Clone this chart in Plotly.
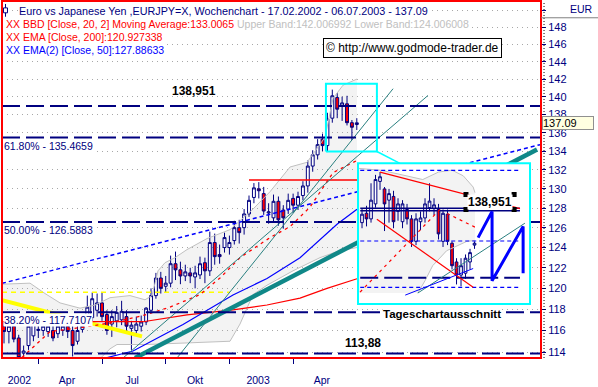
import numpy as np
import pandas as pd
import plotly.graph_objects as go

FIRST_BAR = "2002-02-17"   # first weekly bar, one bar per week

# ---------------- weekly OHLC (EUR/JPY) ----------------
OPEN = [116.4, 115.9, 116.4, 115.3, 113.9, 114.6, 115.5, 116.0, 116.0, 115.9,
        116.0, 115.7, 116.0, 116.4, 116.0, 115.0, 116.1, 117.0, 117.2, 117.9,
        118.6, 117.5, 116.6, 116.9, 117.0, 117.3, 116.2, 116.0, 116.4, 116.8,
        117.9, 119.3, 121.0, 120.2, 120.5, 122.4, 121.8, 121.2, 121.5, 121.1,
        121.3, 122.5, 121.7, 124.5, 123.3, 124.0, 124.0, 124.7, 126.0, 126.0,
        127.4, 129.1, 130.0, 129.5, 127.5, 127.0, 128.7, 127.8, 127.9, 129.0,
        128.3, 129.3, 130.3, 132.4, 133.6, 135.3, 134.6, 137.6, 139.9, 138.9,
        139.2, 137.1, 136.9]
HIGH = [116.8, 116.8, 116.9, 115.6, 114.6, 116.9, 117.2, 116.9, 117.0, 117.1,
        116.6, 117.0, 116.9, 116.8, 116.4, 116.4, 117.4, 119.3, 119.6, 119.5,
        119.6, 117.9, 117.9, 118.3, 118.8, 117.9, 116.9, 117.3, 117.4, 118.2,
        120.0, 121.5, 121.6, 121.2, 123.2, 123.6, 122.6, 122.3, 122.0, 122.2,
        123.1, 123.0, 125.6, 125.4, 124.3, 125.5, 125.2, 126.7, 126.8, 127.9,
        129.3, 130.6, 130.7, 130.2, 128.5, 129.4, 129.2, 128.3, 129.5, 129.5,
        129.7, 130.8, 133.0, 134.1, 135.3, 135.9, 138.2, 140.8, 140.4, 140.0,
        140.1, 137.4, 137.6]
LOW = [114.8, 114.8, 114.9, 113.5, 113.6, 114.2, 115.0, 115.3, 115.5, 115.4,
       115.0, 115.3, 115.5, 115.3, 113.6, 114.7, 115.8, 116.6, 116.7, 117.3,
       116.9, 115.6, 115.4, 116.3, 116.5, 115.9, 114.2, 115.6, 115.9, 116.5,
       117.6, 119.0, 119.5, 119.6, 120.1, 120.8, 120.4, 120.7, 120.5, 120.0,
       120.9, 120.5, 121.2, 122.3, 122.4, 123.5, 123.3, 124.3, 124.4, 125.3,
       127.1, 128.5, 129.0, 127.3, 126.4, 126.5, 126.2, 125.9, 127.4, 127.5,
       127.8, 128.8, 129.6, 131.8, 133.1, 134.0, 133.9, 137.1, 137.6, 137.3,
       136.8, 135.2, 136.3]
CLOSE = [115.9, 116.4, 115.2, 113.5, 114.1, 116.4, 116.8, 116.1, 116.4, 116.4,
         115.3, 116.4, 116.4, 115.9, 114.6, 116.0, 116.4, 118.2, 119.0, 118.6,
         117.3, 116.0, 117.3, 117.7, 117.8, 116.4, 116.5, 116.6, 116.8, 118.1,
         119.3, 121.0, 120.0, 120.5, 122.4, 121.8, 121.2, 121.6, 121.2, 121.5,
         122.4, 121.7, 124.5, 123.1, 123.1, 125.0, 124.5, 126.0, 125.5, 127.4,
         128.8, 130.1, 129.8, 127.7, 127.6, 128.7, 126.8, 127.0, 128.8, 128.3,
         129.2, 130.3, 132.4, 133.6, 134.7, 134.6, 137.5, 140.1, 138.6, 139.3,
         137.1, 136.6, 137.09]

# ---------------- indicators (week offset from first bar, value) ----------------
BB_UPPER_W = [-0.41, 5.31, 8.37, 11.43, 15.51, 18.57, 21.63, 25.71, 28.78, 30.20, 31.43, 32.86,
              34.90, 37.35, 41.43, 46.12, 50.82, 54.29, 58.37, 61.84, 65.51, 67.14, 69.18, 72.04]
BB_UPPER_V = [120.4, 120.5, 119.5, 118.6, 118.1, 118.4, 119.1, 119.3, 118.9, 119.3, 121.7, 122.5,
              123.0, 123.8, 124.9, 125.8, 127.9, 129.7, 132.3, 132.8, 135.5, 139.8, 141.3, 142.0]
BB_LOWER_W = [-0.41, 19.59, 21.63, 23.06, 29.18, 40.00, 46.12, 48.16, 50.82, 53.67, 58.98, 64.49, 68.57, 72.04]
BB_LOWER_V = [112.9, 113.4, 114.3, 114.7, 114.7, 114.9, 115.0, 116.6, 119.4, 120.3, 121.7, 123.0, 123.7, 124.0]
BB_MID_W = [3.67, 9.39, 16.12, 21.63, 28.37, 33.88, 40.00, 44.08, 48.16, 54.29, 58.37, 62.45, 67.14, 72.04]
BB_MID_V = [113.5, 115.9, 116.3, 116.7, 117.4, 118.2, 119.4, 121.0, 123.0, 125.0, 126.1, 128.1, 131.7, 133.0]
EMA200_W = [-0.41, 28.37, 37.35, 46.73, 53.67, 60.41, 65.92, 72.04]
EMA200_V = [116.82, 116.82, 117.47, 117.94, 118.4, 119.06, 120.0, 120.93]
EMA50_W = [17.55, 26.33, 36.53, 46.73, 53.67, 60.41, 67.96, 72.04]
EMA50_V = [113.1, 114.1, 116.55, 119.35, 120.96, 122.99, 126.34, 127.89]

# ---------------- drawn lines (anchor week, price) ----------------
TEAL_THICK_W, TEAL_THICK_V = [26.73, 108.78], [113.46, 134.17]
TEAL_A_W, TEAL_A_V = [35.3, 79.4], [113.46, 140.9]
TEAL_B_W, TEAL_B_V = [24.29, 86.53], [113.46, 140.14]
BLUE_DOT_W, BLUE_DOT_V = [-0.41, 109.39], [120.48, 134.7]
YEL_DASH_W, YEL_DASH_LEVEL = [-0.41, 46.1], 119.63
YEL_THICK_W, YEL_THICK_V = [-0.41, 28.16], [118.87, 115.45]
RED_H_W, RED_H_LEVEL = [50.0, 72.2], 130.92
ZOOM_BOX_W, ZOOM_BOX_V = [65.7, 76.1], [133.96, 141.47]
CONNECT_W, CONNECT_V = [76.1, 80.8], [133.96, 132.69]

LEVELS = [138.951, 135.4659, 126.5883, 117.7107, 113.88]
FIB_LABELS = [("61.80% - 135.4659", 135.4659, -8), ("50.00% - 126.5883", 126.5883, -8),
              ("38.20% - 117.7107", 117.7107, -7.5)]
X_RANGE_W = [-0.41, 109.59]
Y_RANGE = [113.46, 151.2]
YTICKS = list(range(114, 151, 2))
TICK_LABEL_DATES = ["2002-03-11", "2002-05-18", "2002-08-19", "2002-11-17", "2003-02-15", "2003-05-17"]
TICK_TEXT = ["2002", "Apr", "Jul", "Okt", "2003", "Apr"]
QUARTER_TICKS = ["2002-04-07", "2002-07-07", "2002-10-06", "2003-01-05", "2003-04-06"]

# ---------------- inset: daily chart excerpt (day index, price) ----------------
D_OPEN = [138.3, 138.8, 138.5, 139.3, 140.5, 140.1, 139.5, 139.7, 138.9, 138.35, 139.0, 138.5, 137.3,
          138.35, 138.55, 139.1, 139.05, 139.0, 137.3, 138.75, 137.2, 136.2, 135.5, 135.6, 136.2, 137.1]
D_HIGH = [139.05, 139.2, 140.4, 140.85, 141.0, 140.2, 140.1, 140.0, 139.6, 139.5, 139.3, 138.7, 138.8,
          138.9, 139.6, 140.4, 139.6, 139.3, 139.0, 139.0, 137.3, 136.4, 136.4, 136.6, 136.9, 137.3]
D_LOW = [138.0, 138.1, 138.3, 139.1, 140.05, 137.85, 138.3, 138.0, 138.4, 138.0, 138.2, 137.0, 137.1,
         137.9, 138.3, 138.9, 138.7, 137.4, 137.0, 137.1, 135.8, 135.0, 134.9, 135.3, 135.8, 136.9]
D_CLOSE = [138.75, 138.5, 139.5, 140.6, 140.75, 139.3, 139.85, 138.35, 139.3, 139.3, 138.5, 137.3, 138.5,
           138.55, 139.3, 139.45, 139.25, 137.7, 138.8, 137.3, 136.0, 135.5, 136.0, 136.4, 136.7, 137.2]
D_UP_U = [-0.9, 4.0, 8.0, 13.5, 17.0, 20.0, 22.5, 24.7, 25.1]
D_UP_V = [141.2, 141.1, 140.9, 140.6, 141.0, 141.1, 140.8, 140.2, 139.9]
D_LO_U = [-0.9, 12.4, 14.0, 15.7, 18.8, 23.3, 25.1]
D_LO_V = [134.54, 134.54, 135.2, 136.0, 136.8, 137.3, 137.35]
D_BLUE_DASH = [141.09, 137.32, 134.84]
D_NAVY_SOLID = [139.07, 138.93]
D_NAVY_DASH = 135.36
D_LINE_U = [-0.4, 35.1]
D_RED1_U, D_RED1_V = [4.0, 35.1], [141.0, 139.05]
D_RED2_U, D_RED2_V = [3.3, 24.7], [138.48, 134.85]
D_REDD1_U, D_REDD1_V = [-0.44, 17.3], [134.59, 139.0]
D_REDD2_U, D_REDD2_V = [18.9, 25.6], [138.79, 138.0]
D_TEAL_U, D_TEAL_V = [12.4, 36.2], [134.54, 138.27]
D_BLUE_U, D_BLUE_V = [9.6, 24.7], [134.43, 135.85]
D_ZIG_U = [25.8, 28.9, 28.9, 35.8, 35.8]
D_ZIG_V = [137.5, 138.9, 135.2, 138.1, 135.6]
D_SQ_U = [23.1, 33.8, 23.1, 33.8]
D_SQ_V = [139.8, 139.8, 139.0, 139.0]
INSET_U_RANGE = [-0.89, 37.33]
INSET_P_RANGE = [133.96, 141.47]

NAVY = "#000080"
FONT = "Liberation Sans, Arial, sans-serif"
BAND_FILL = "#f3f3f3"


def wd(w):
    d = pd.Timestamp(FIRST_BAR) + pd.to_timedelta(np.asarray(w, dtype=float) * 7, unit="D")
    return [t.strftime("%Y-%m-%d %H:%M:%S") for t in d]


def wms(w):
    d = pd.Timestamp(FIRST_BAR) + pd.to_timedelta(np.asarray(w, dtype=float) * 7, unit="D")
    return [(t - pd.Timestamp("1970-01-01")) // pd.Timedelta(milliseconds=1) for t in d]


def path(xs, ys):
    return "M " + " L ".join(f"{a},{b}" for a, b in zip(xs, ys)) + " Z"


fig = go.Figure()


def line(xw, y, color, width=1, dash=None, axes=("x", "y"), conv=True):
    fig.add_trace(go.Scatter(x=wd(xw) if conv else xw, y=y, mode="lines",
                             line=dict(color=color, width=width, dash=dash),
                             xaxis=axes[0], yaxis=axes[1], hoverinfo="skip"))


# Bollinger band outline (fill is a shape below the grid)
line(BB_LOWER_W, BB_LOWER_V, "#c0c0c0")
line(BB_UPPER_W, BB_UPPER_V, "#c0c0c0")
line(YEL_DASH_W, [YEL_DASH_LEVEL] * 2, "#ffff00", 1.5, "5px,4px")
line(YEL_THICK_W, YEL_THICK_V, "#ffff00", 4)
line(BLUE_DOT_W, BLUE_DOT_V, "#0000ff", 1.5, "4px,3px")
line(EMA200_W, EMA200_V, "#ff0000", 1.2)
line(EMA50_W, EMA50_V, "#0000ff", 1.2)
line(RED_H_W, [RED_H_LEVEL] * 2, "#ff0000", 1.5)
line(BB_MID_W, BB_MID_V, "#ff0000", 1.3, "3px,4px")
line(TEAL_THICK_W, TEAL_THICK_V, "#108888", 4.5)
line(TEAL_A_W, TEAL_A_V, "#2a8080", 1)
line(TEAL_B_W, TEAL_B_V, "#2a8080", 1)
for lv in LEVELS:
    line(X_RANGE_W, [lv, lv], NAVY, 2, "18px,6px")

fig.add_trace(go.Candlestick(
    x=wd(range(len(CLOSE))), open=OPEN, high=HIGH, low=LOW, close=CLOSE,
    increasing=dict(line=dict(color=NAVY, width=1), fillcolor="white"),
    decreasing=dict(line=dict(color=NAVY, width=1), fillcolor="#ff0000"),
    whiskerwidth=0, hoverinfo="skip"))

# zoom box + connector
bx = [ZOOM_BOX_W[0], ZOOM_BOX_W[1], ZOOM_BOX_W[1], ZOOM_BOX_W[0], ZOOM_BOX_W[0]]
by = [ZOOM_BOX_V[0], ZOOM_BOX_V[0], ZOOM_BOX_V[1], ZOOM_BOX_V[1], ZOOM_BOX_V[0]]
line(bx, by, "#00ffff", 2)
line(CONNECT_W, CONNECT_V, "#00ffff", 1.5)

# ---------------- inset ----------------
A2 = ("x2", "y2")
line(D_UP_U, D_UP_V, "#c0c0c0", 1, axes=A2, conv=False)
line(D_LO_U[1:], D_LO_V[1:], "#c0c0c0", 1, axes=A2, conv=False)
for lv in D_BLUE_DASH:
    line(D_LINE_U, [lv, lv], "#0000ff", 1.2, "4px,3px", axes=A2, conv=False)
for lv in D_NAVY_SOLID:
    line(D_LINE_U, [lv, lv], NAVY, 1.5, axes=A2, conv=False)
line(D_LINE_U, [D_NAVY_DASH] * 2, NAVY, 2, "18px,6px", axes=A2, conv=False)
line(D_RED1_U, D_RED1_V, "#ff0000", 1.2, axes=A2, conv=False)
line(D_RED2_U, D_RED2_V, "#ff0000", 1.2, axes=A2, conv=False)
line(D_REDD1_U, D_REDD1_V, "#ff0000", 1.2, "3px,4px", axes=A2, conv=False)
line(D_REDD2_U, D_REDD2_V, "#ff0000", 1.2, "3px,4px", axes=A2, conv=False)
line(D_TEAL_U, D_TEAL_V, "#2a8080", 1, axes=A2, conv=False)
line(D_BLUE_U, D_BLUE_V, "#0000ff", 1, axes=A2, conv=False)
fig.add_trace(go.Candlestick(
    x=list(range(len(D_CLOSE))), open=D_OPEN, high=D_HIGH, low=D_LOW, close=D_CLOSE,
    increasing=dict(line=dict(color=NAVY, width=1), fillcolor="white"),
    decreasing=dict(line=dict(color=NAVY, width=1), fillcolor="#ff0000"),
    whiskerwidth=0, xaxis="x2", yaxis="y2", hoverinfo="skip"))
line(D_ZIG_U, D_ZIG_V, "#0000ff", 3, axes=A2, conv=False)
fig.add_trace(go.Scatter(x=D_SQ_U, y=D_SQ_V, mode="markers", xaxis="x2", yaxis="y2",
                         marker=dict(symbol="square", size=5, color="black"), hoverinfo="skip"))

# ---------------- annotations ----------------
ann = []
leg = dict(xref="paper", yref="paper", xanchor="left", yanchor="middle", showarrow=False,
           bgcolor="white", borderpad=0)
ann.append(dict(leg, x=0.0297, y=0.9725,
                text="Euro vs Japanese Yen ,EURJPY=X, Wochenchart - 17.02.2002 - 06.07.2003 - 137.09",
                font=dict(family=FONT, size=10.8, color=NAVY)))
ann.append(dict(leg, x=0.0056, y=0.9353,
                text="<span style='color:#ff0000'>XX BBD [Close, 20, 2] Moving Average:133.0065</span>"
                     "<span style='color:#c0c0c0'> Upper Band:142.006992 Lower Band:124.006008</span>",
                font=dict(family=FONT, size=10.5)))
ann.append(dict(leg, x=0.0056, y=0.8994, text="XX EMA [Close, 200]:120.927338",
                font=dict(family=FONT, size=10.5, color="#ff0000")))
ann.append(dict(leg, x=0.0056, y=0.8623, text="XX EMA(2) [Close, 50]:127.88633",
                font=dict(family=FONT, size=10.5, color="#0000ff")))
ann.append(dict(xref="paper", yref="paper", x=0.7625, y=0.8678, xanchor="center", yanchor="middle",
                showarrow=False, text="© http://www.godmode-trader.de", bgcolor="white",
                bordercolor="black", borderwidth=1, borderpad=2,
                font=dict(family=FONT, size=12, color="black")))
ann.append(dict(xref="paper", yref="paper", x=1.076, y=0.978, xanchor="center", yanchor="middle",
                showarrow=False, text="EUR", font=dict(family=FONT, size=10.5, color=NAVY)))
ann.append(dict(xref="paper", yref="y", x=1.0, xanchor="left", yanchor="middle", xshift=1,
                y=np.log10(CLOSE[-1]), showarrow=False, text="137.09", width=50, align="left",
                bgcolor="#ffffe1", bordercolor="#909090", borderwidth=1, borderpad=0,
                font=dict(family=FONT, size=11, color="black")))
for txt, lv, ys in FIB_LABELS:
    ann.append(dict(xref="paper", yref="y", x=0.002, xanchor="left", yanchor="middle",
                    y=np.log10(lv), yshift=ys, showarrow=False, text=txt, bgcolor="white",
                    borderpad=0, font=dict(family=FONT, size=10.5, color=NAVY)))
bold = dict(family=FONT, size=12, color="black")
ann.append(dict(xref="paper", yref="y", x=0.357, y=np.log10(138.951), yshift=15, xanchor="center",
                yanchor="middle", showarrow=False, text="<b>138,951</b>", font=bold))
ann.append(dict(xref="paper", yref="y", x=0.669, y=np.log10(113.88), yshift=10.5, xanchor="center",
                yanchor="middle", showarrow=False, text="<b>113,88</b>", font=bold))
ann.append(dict(xref="paper", yref="y", x=0.817, y=np.log10(117.7107), yshift=-2, xanchor="center",
                yanchor="middle", showarrow=False, text="<b>Tageschartausschnitt</b>",
                bgcolor="white", borderpad=0, font=dict(family=FONT, size=11.5, color="black")))
ann.append(dict(xref="x2", yref="y2", x=28.4, y=139.4, xanchor="center", yanchor="middle",
                showarrow=False, text="<b>138,951</b>", bgcolor="white", borderpad=0, font=bold))

u0, u1 = INSET_U_RANGE
p0, p1 = INSET_P_RANGE
shapes = [
    # Bollinger band fill of weekly chart (below grid and traces)
    dict(type="path", xref="x", yref="y", layer="below", line=dict(width=0), fillcolor=BAND_FILL,
         path=path(wms(BB_UPPER_W) + wms(BB_LOWER_W[::-1]), BB_UPPER_V + BB_LOWER_V[::-1])),
    # inset: white card and its band fill
    dict(type="rect", xref="x2", yref="y2", x0=u0, x1=u1, y0=p0, y1=p1, layer="below",
         line=dict(width=0), fillcolor="white"),
    dict(type="path", xref="x2", yref="y2", layer="below", line=dict(width=0), fillcolor=BAND_FILL,
         path=path(D_UP_U + D_LO_U[::-1], D_UP_V + D_LO_V[::-1])),
    dict(type="rect", xref="paper", yref="paper", x0=0, x1=1, y0=0, y1=1,
         line=dict(color="#ff0000", width=2), layer="above"),
    dict(type="rect", xref="paper", yref="paper", x0=0.6605, x1=0.9796, y0=0.1515, y1=0.5455,
         line=dict(color="#00ffff", width=2), layer="above"),
    dict(type="line", xref="paper", yref="paper", x0=1.0056, x1=1.0056, y0=0, y1=1,
         line=dict(color="black", width=1, dash="1px,2px")),
    dict(type="line", xref="paper", yref="paper", x0=1.0, x1=1.11, y0=0.953, y1=0.953,
         line=dict(color="#808080", width=1)),
    dict(type="line", xref="paper", yref="paper", x0=0.0065, x1=0.0065, y0=0.9559, y1=0.9917,
         line=dict(color=NAVY, width=1), layer="above"),
    dict(type="rect", xref="paper", yref="paper", x0=0.0028, x1=0.0102, y0=0.9669, y1=0.9807,
         line=dict(color=NAVY, width=1), fillcolor="white", layer="above"),
]

fig.update_layout(
    width=598, height=387, margin=dict(l=2, r=57, t=1, b=23),
    paper_bgcolor="white", plot_bgcolor="white", showlegend=False, hovermode=False,
    boxgap=0.15, boxgroupgap=0.3,
    font=dict(family=FONT, size=10.5, color=NAVY),
    xaxis=dict(type="date", range=wd(X_RANGE_W), tickmode="array", tickvals=TICK_LABEL_DATES,
               ticktext=TICK_TEXT, ticks="outside", ticklen=12, tickcolor="rgba(0,0,0,0)",
               tickfont=dict(family=FONT, size=10.5, color=NAVY), showgrid=False, zeroline=False,
               showline=False, rangeslider=dict(visible=False), fixedrange=True,
               minor=dict(tickmode="array", tickvals=QUARTER_TICKS, ticks="outside", ticklen=5,
                          tickcolor=NAVY, tickwidth=1, showgrid=False)),
    yaxis=dict(type="log", range=list(np.log10(Y_RANGE)), side="right", tickmode="array",
               tickvals=YTICKS, ticktext=[str(v) if v < 150 else "" for v in YTICKS],
               ticks="outside", ticklen=4, tickcolor=NAVY,
               tickfont=dict(family=FONT, size=11, color=NAVY), showgrid=True,
               gridcolor="#a8a8a8", griddash="1px,4px", gridwidth=1, zeroline=False,
               showline=False, fixedrange=True),
    xaxis2=dict(domain=[0.6605, 0.9796], range=INSET_U_RANGE, anchor="y2", visible=False,
                rangeslider=dict(visible=False), fixedrange=True),
    yaxis2=dict(domain=[0.1515, 0.5455], range=INSET_P_RANGE, anchor="x2", visible=False,
                fixedrange=True),
    annotations=ann, shapes=shapes,
)

fig.write_html("out.html", config={"displayModeBar": False, "staticPlot": True},
               post_script="document.body.style.margin='0px';document.body.style.overflow='hidden';")
